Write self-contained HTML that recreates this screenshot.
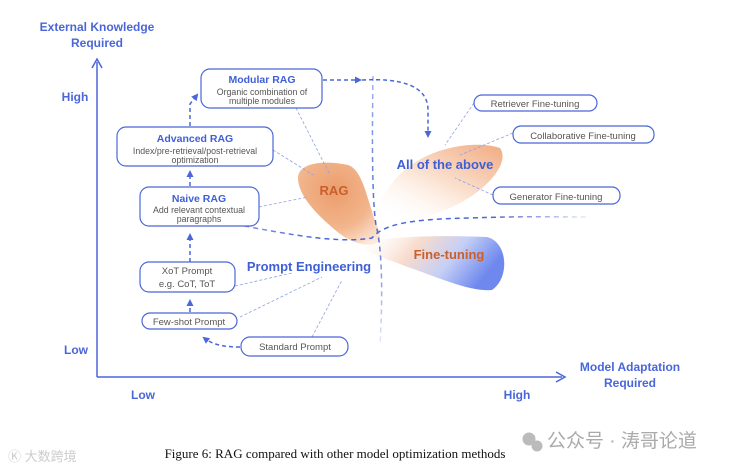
<!DOCTYPE html>
<html><head><meta charset="utf-8"><style>
body{margin:0;background:#fff;}
svg{display:block;font-family:"Liberation Sans",sans-serif;}
</style></head><body>
<svg width="737" height="472" viewBox="0 0 737 472" xmlns="http://www.w3.org/2000/svg">
<defs>
<radialGradient id="og" cx="0.45" cy="0.35" r="0.75"><stop offset="0" stop-color="#eb9d6c"/><stop offset="0.6" stop-color="#f2b58c"/><stop offset="1" stop-color="#fce6d6"/></radialGradient>
<linearGradient id="ag" x1="0.1" y1="1" x2="0.9" y2="0"><stop offset="0" stop-color="#fff" stop-opacity="0"/><stop offset="0.5" stop-color="#fbe3d2"/><stop offset="1" stop-color="#f2b088"/></linearGradient>
<linearGradient id="bg" x1="0" y1="0" x2="1" y2="0.3"><stop offset="0" stop-color="#fff" stop-opacity="0"/><stop offset="0.4" stop-color="#f8dccc"/><stop offset="0.7" stop-color="#c5cff6"/><stop offset="1" stop-color="#6f88ee"/></linearGradient>
<linearGradient id="hf" gradientUnits="userSpaceOnUse" x1="200" y1="0" x2="590" y2="0"><stop offset="0" stop-color="#4a66d8" stop-opacity="0.5"/><stop offset="0.3" stop-color="#4a66d8"/><stop offset="0.75" stop-color="#4a66d8"/><stop offset="1" stop-color="#4a66d8" stop-opacity="0.1"/></linearGradient>
<linearGradient id="vf" gradientUnits="userSpaceOnUse" x1="0" y1="75" x2="0" y2="350"><stop offset="0" stop-color="#4a66d8" stop-opacity="0.5"/><stop offset="0.55" stop-color="#4a66d8"/><stop offset="1" stop-color="#4a66d8" stop-opacity="0.1"/></linearGradient>
<marker id="ah" markerUnits="userSpaceOnUse" markerWidth="8" markerHeight="8" refX="5" refY="4" orient="auto"><path d="M0,0.5 L7,4 L0,7.5 z" fill="#4a66d8"/></marker>
</defs>
<!-- blobs -->
<path d="M380,205 C400,150 470,138 500,148 C512,165 480,198 440,212 C410,225 385,228 380,205 z" fill="url(#ag)"/>
<path d="M298,180 C296,162 325,160 348,165 C364,170 368,205 378,228 C388,248 362,250 340,234 C318,216 300,198 298,180 z" fill="url(#og)"/>
<path d="M360,242 C400,236 440,235 487,237 C508,242 510,278 492,290 C470,292 440,278 405,266 C385,258 355,250 360,242 z" fill="url(#bg)"/>
<!-- axes -->
<path d="M97,377 V62" stroke="#4a66d8" stroke-width="1.5" fill="none"/>
<path d="M92,68 L97,59 L102,68" stroke="#4a66d8" stroke-width="1.5" fill="none"/>
<path d="M97,377 H562" stroke="#4a66d8" stroke-width="1.5" fill="none"/>
<path d="M556,372 L565,377 L556,382" stroke="#4a66d8" stroke-width="1.5" fill="none"/>
<!-- dashed separators -->
<path d="M373,76 C372,140 372,200 376,225 C380,240 384,275 380,345" stroke="url(#vf)" stroke-width="1.5" stroke-dasharray="5,4" fill="none"/>
<path d="M200,218 C270,230 330,245 372,238 C385,222 420,219 470,218 C520,216 560,217 590,217" stroke="url(#hf)" stroke-width="1.5" stroke-dasharray="5,4" fill="none"/>
<!-- flow arrows -->
<g stroke="#4a66d8" stroke-width="1.5" stroke-dasharray="4,3" fill="none">
<path d="M190,262 V235" marker-end="url(#ah)"/>
<path d="M190,186 V172" marker-end="url(#ah)"/>
<path d="M190,126 V104 L197,95" marker-end="url(#ah)"/>
<path d="M190,312 V301" marker-end="url(#ah)"/>
<path d="M240,347 C222,347 212,344 204,338" marker-end="url(#ah)"/>
<path d="M323,80 H360" marker-end="url(#ah)"/>
<path d="M362,80 C400,78 428,85 428,110 V136" marker-end="url(#ah)"/>
</g>
<!-- thin connector lines -->
<g stroke="#8fa0e6" stroke-width="0.8" stroke-dasharray="3,2" fill="none">
<path d="M296,108 L330,175"/><path d="M273,150 L315,176"/><path d="M259,207 L308,197"/>
<path d="M235,286 L292,273"/><path d="M240,317 L322,277"/><path d="M312,337 L342,280"/>
<path d="M474,103 L445,145"/><path d="M513,133 L460,155"/><path d="M493,195 L455,178"/>
</g>
<!-- boxes -->
<g fill="#fff" stroke="#4a66d8" stroke-width="1.2">
<rect x="201" y="69" width="121" height="39" rx="9"/>
<rect x="117" y="127" width="156" height="39" rx="9"/>
<rect x="140" y="187" width="119" height="39" rx="9"/>
<rect x="140" y="262" width="95" height="30" rx="9"/>
<rect x="142" y="313" width="95" height="16" rx="8"/>
<rect x="241" y="337" width="107" height="19" rx="9"/>
<rect x="474" y="95" width="123" height="16" rx="8"/>
<rect x="513" y="126" width="141" height="17" rx="8"/>
<rect x="493" y="187" width="127" height="17" rx="8"/>
</g>
<g text-anchor="middle" font-size="8.8" fill="#555">
<text x="262" y="83" font-size="10.5" font-weight="bold" fill="#3f5fd6">Modular RAG</text>
<text x="262" y="95">Organic combination of</text><text x="262" y="104">multiple modules</text>
<text x="195" y="142" font-size="10.5" font-weight="bold" fill="#3f5fd6">Advanced RAG</text>
<text x="195" y="154">Index/pre-retrieval/post-retrieval</text><text x="195" y="163">optimization</text>
<text x="199" y="202" font-size="10.5" font-weight="bold" fill="#3f5fd6">Naive RAG</text>
<text x="199" y="213">Add relevant contextual</text><text x="199" y="222">paragraphs</text>
<text x="187" y="274" font-size="9.5">XoT Prompt</text><text x="187" y="287" font-size="9.5">e.g. CoT, ToT</text>
<text x="189" y="325" font-size="9.5">Few-shot Prompt</text>
<text x="295" y="350" font-size="9.5">Standard Prompt</text>
<text x="535" y="107" font-size="9.5">Retriever Fine-tuning</text>
<text x="583" y="139" font-size="9.5">Collaborative Fine-tuning</text>
<text x="556" y="200" font-size="9.5">Generator Fine-tuning</text>
</g>
<g font-weight="bold" text-anchor="middle">
<text x="334" y="195" font-size="13" fill="#c9602c">RAG</text>
<text x="445" y="169" font-size="13" fill="#3f5fd6">All of the above</text>
<text x="449" y="259" font-size="13" fill="#c9602c">Fine-tuning</text>
<text x="309" y="271" font-size="13" fill="#3f5fd6">Prompt Engineering</text>
</g>
<g font-weight="bold" font-size="12" fill="#4a66d8" text-anchor="middle">
<text x="97" y="31">External Knowledge</text><text x="97" y="47">Required</text>
<text x="75" y="101">High</text><text x="76" y="354">Low</text>
<text x="143" y="399">Low</text><text x="517" y="399">High</text>
<text x="630" y="371">Model Adaptation</text><text x="630" y="387">Required</text>
</g>
<text x="335" y="458" text-anchor="middle" font-family="Liberation Serif,serif" font-size="13" fill="#111">Figure 6: RAG compared with other model optimization methods</text>
<text x="8" y="461" font-family="Liberation Sans,'Noto Sans CJK SC',sans-serif" font-size="13" fill="#ccc">Ⓚ 大数跨境</text>
<circle cx="529" cy="439" r="6.5" fill="#bbb"/><circle cx="537" cy="446" r="5.5" fill="#bbb"/>
<text x="547" y="447" font-family="Liberation Sans,'Noto Sans CJK SC',sans-serif" font-size="19" fill="#aaa">公众号 · 涛哥论道</text>
</svg>
</body></html>
